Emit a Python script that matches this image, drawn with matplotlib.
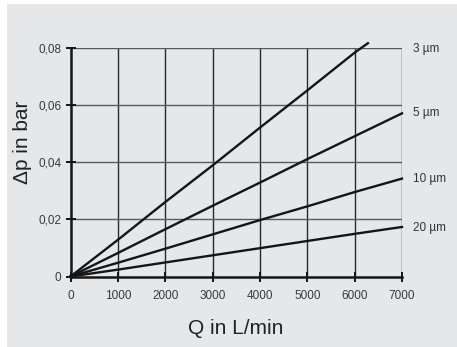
import matplotlib
matplotlib.use("Agg")
import matplotlib.pyplot as plt
from matplotlib.patches import Rectangle

q = [0, 1000, 2000, 3000, 4000, 5000, 6000, 6280]
q_full = [0, 1000, 2000, 3000, 4000, 5000, 6000, 7000]
dp_3um = [0, 0.0128, 0.026, 0.0388, 0.052, 0.065, 0.0782, 0.0815]
dp_5um = [0, 0.0082, 0.0165, 0.0247, 0.0328, 0.041, 0.049, 0.057]
dp_10um = [0, 0.0048, 0.0097, 0.0147, 0.0197, 0.0245, 0.0295, 0.0342]
dp_20um = [0, 0.0024, 0.0049, 0.0074, 0.0099, 0.0124, 0.0149, 0.0173]
labels = ["3 µm", "5 µm", "10 µm", "20 µm"]
label_y = [0.0795, 0.057, 0.034, 0.017]
xticks = [0, 1000, 2000, 3000, 4000, 5000, 6000, 7000]
yticks = [0, 0.02, 0.04, 0.06, 0.08]
ytick_labels = ["0", "0,02", "0,04", "0,06", "0,08"]

fam = ["Liberation Sans", "DejaVu Sans"]

fig = plt.figure(figsize=(4.57, 3.47), dpi=100)
fig.patch.set_facecolor("white")
fig.patches.append(Rectangle((7/457, 0), 1, 1 - 4/347, transform=fig.transFigure,
                             facecolor="#e6e7e9", edgecolor="none", zorder=-10))

ax = fig.add_axes([70.5/457, 1 - 276.5/347, 331.5/457, 229/347])
ax.set_facecolor("none")
ax.set_xlim(0, 7000)
ax.set_ylim(0, 0.08)

for x in xticks[1:]:
    ax.axvline(x, color="#2a2a2a", lw=1.0, zorder=1)
for y in yticks[1:]:
    ax.axhline(y, color="#5a5a5a", lw=1.0, zorder=1)

for q_, d in [(q, dp_3um), (q_full, dp_5um), (q_full, dp_10um), (q_full, dp_20um)]:
    ax.plot(q_, d, color="#151515", lw=1.7, zorder=3, clip_on=False)

for lab, yv in zip(labels, label_y):
    ax.text(7230, yv, lab, fontsize=8.5, family=fam, color="#333333",
            va="center", ha="left", clip_on=False)

for s in ["top", "right"]:
    ax.spines[s].set_visible(False)
for s in ["left", "bottom"]:
    ax.spines[s].set_linewidth(1.8)
    ax.spines[s].set_color("#151515")

ax.set_xticks(xticks)
ax.set_xticklabels([str(x) for x in xticks])
ax.set_yticks(yticks)
ax.set_yticklabels(ytick_labels)
ax.tick_params(direction="inout", length=7, width=1.4, color="#151515",
               labelsize=8.5, labelcolor="#3a3a3a")
ax.tick_params(axis="y", pad=3)
ax.tick_params(axis="x", pad=6)
for t in ax.get_xticklabels() + ax.get_yticklabels():
    t.set_family(fam)

fig.text(236/457, 1 - 328/347, "Q in L/min", fontsize=15, family=fam,
         color="#222222", ha="center", va="center")
fig.text(23/457, 1 - 142/347, "Δp in bar", fontsize=15, family=fam,
         color="#222222", ha="center", va="center", rotation=90)

fig.savefig("out.png", dpi=100)
